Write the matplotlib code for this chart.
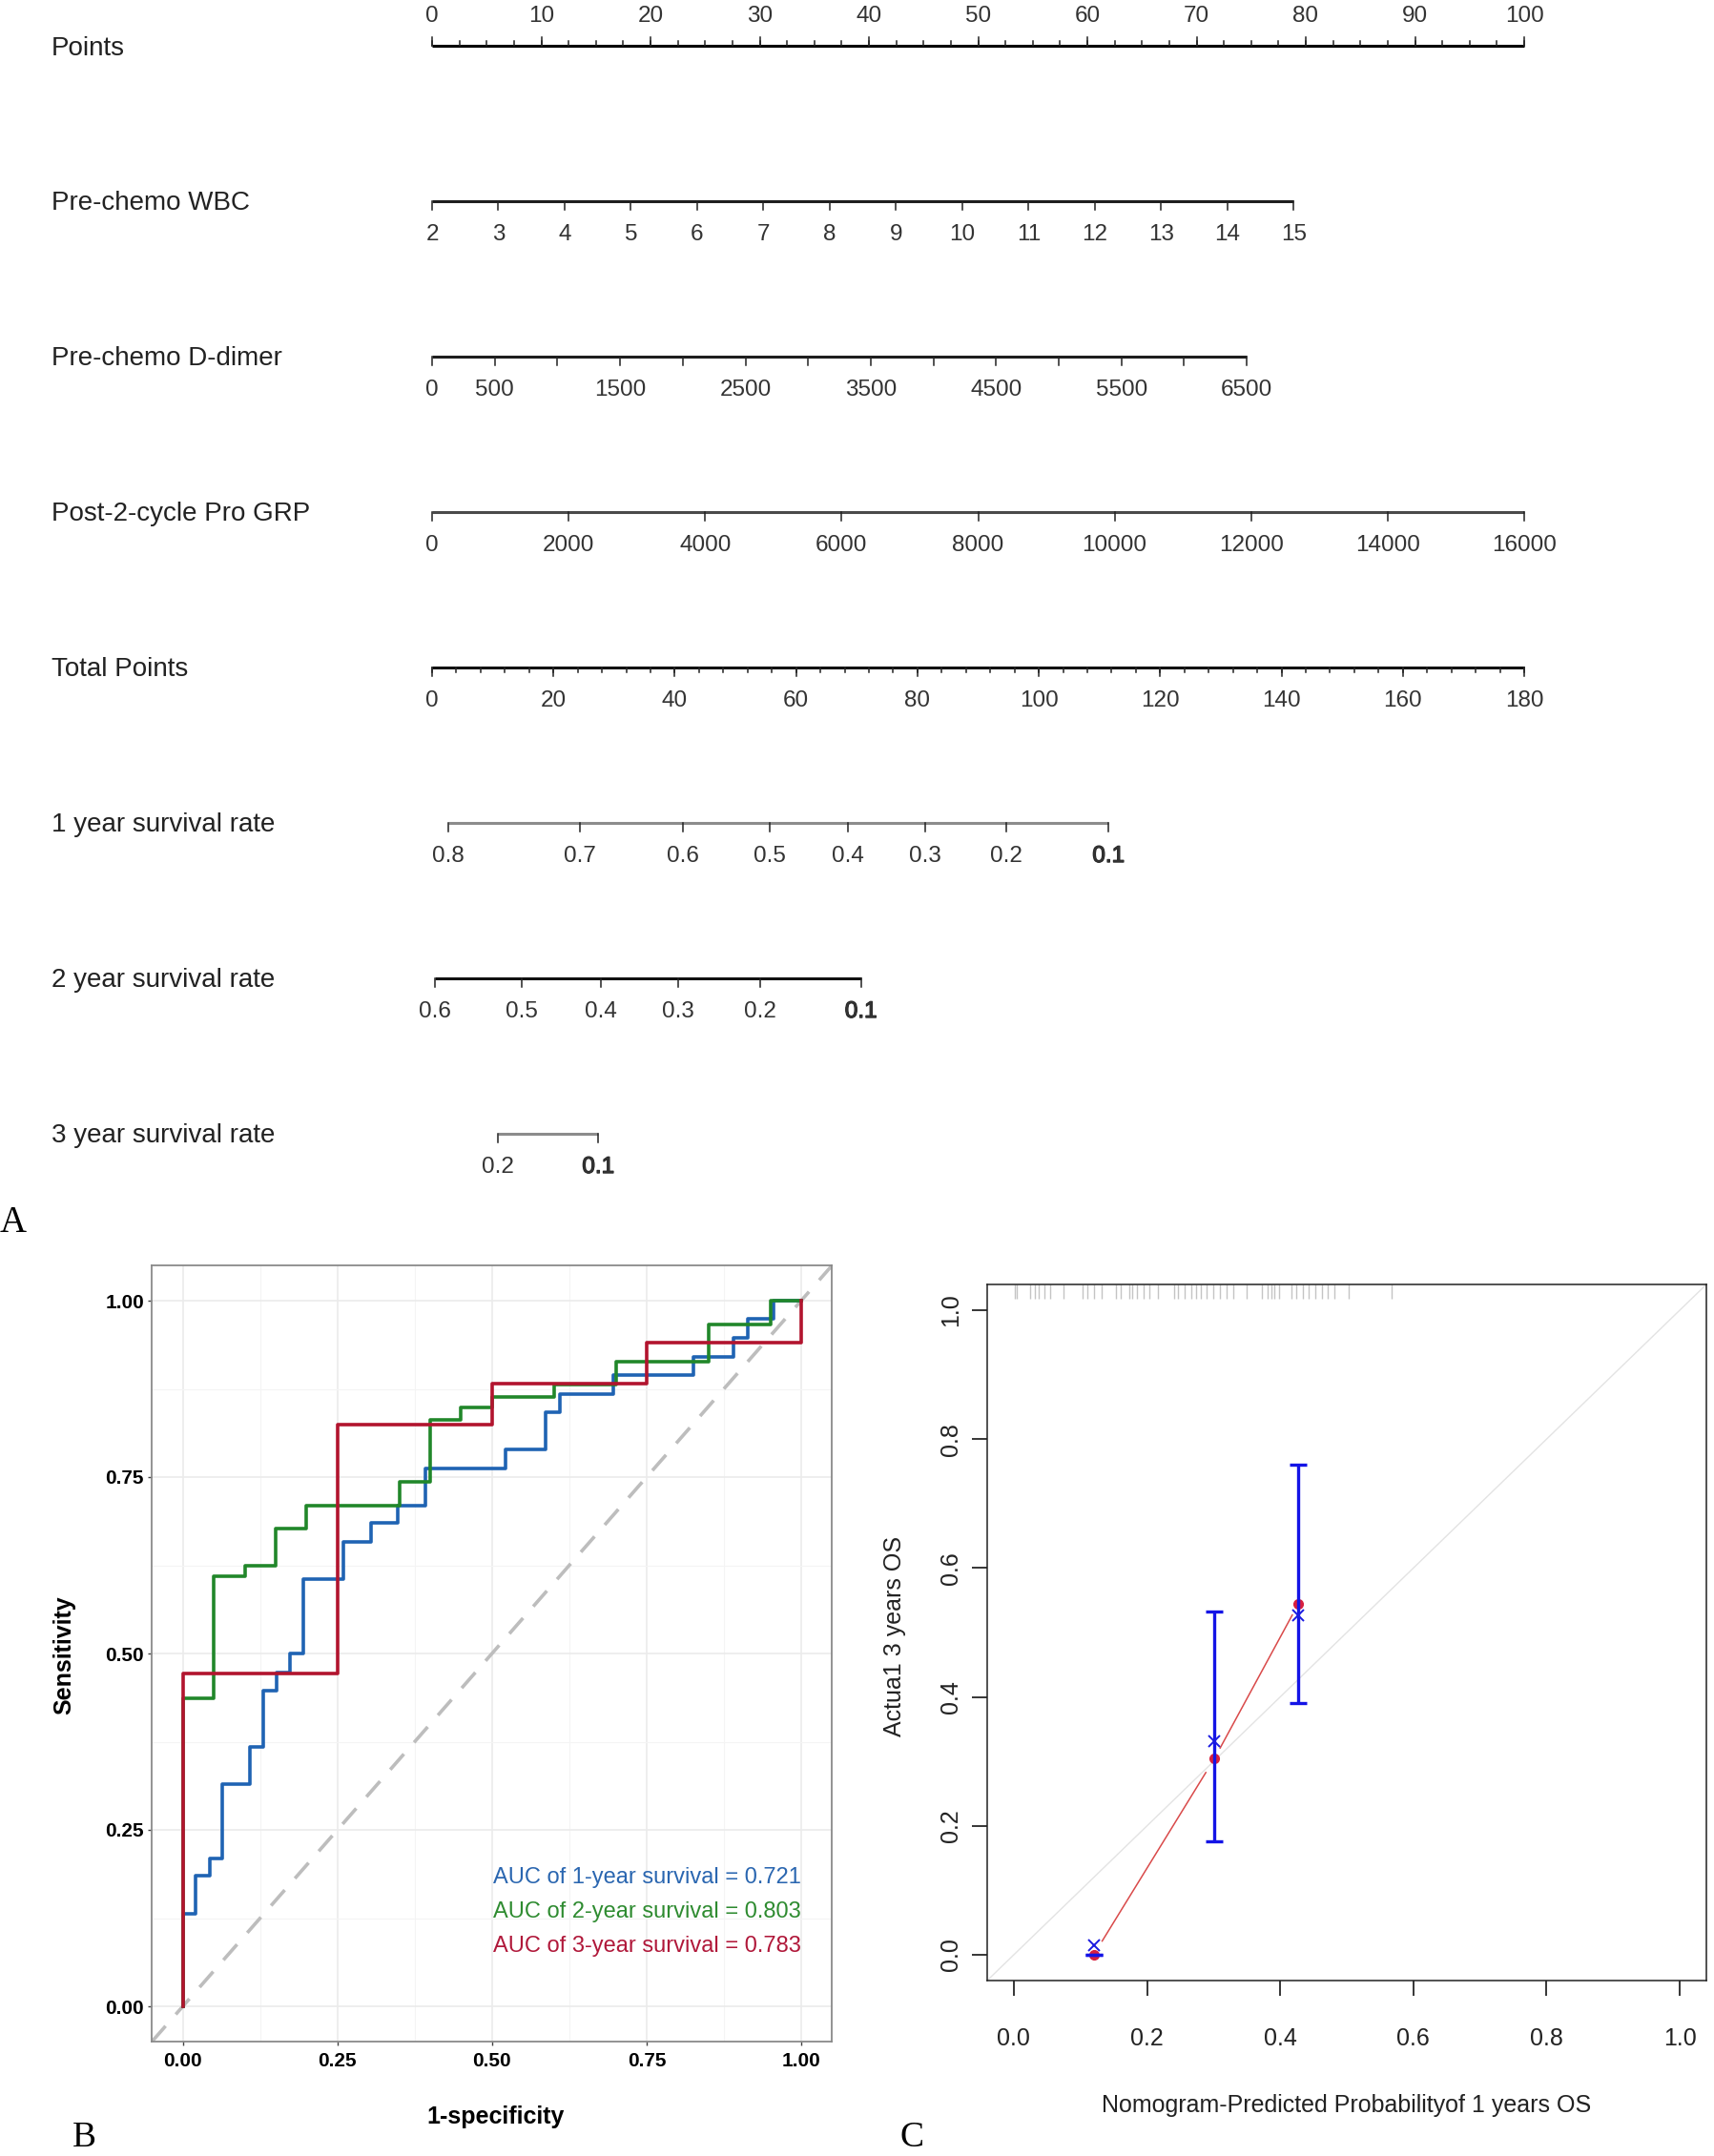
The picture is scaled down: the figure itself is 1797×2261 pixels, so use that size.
import matplotlib
matplotlib.use("Agg")
import matplotlib.pyplot as plt
import matplotlib.transforms as mtransforms
import matplotlib.patheffects as pe
import numpy as np

plt.rcParams['font.family'] = ['Liberation Sans', 'DejaVu Sans']

W, H = 1797, 2261

# ---------------- nomogram data ----------------
row_names = ['Points', 'Pre-chemo WBC', 'Pre-chemo D-dimer', 'Post-2-cycle Pro GRP',
             'Total Points', '1 year survival rate', '2 year survival rate', '3 year survival rate']

points_major = np.arange(0, 101, 10)
points_minor = np.arange(0, 100.1, 2.5)

wbc_ticks = list(range(2, 16))
wbc_max_points = 78.9          # points reached at WBC = 15

ddimer_ticks = list(range(0, 6501, 500))
ddimer_labels = [0, 500, 1500, 2500, 3500, 4500, 5500, 6500]
ddimer_max_points = 74.6       # points reached at D-dimer = 6500

grp_ticks = list(range(0, 16001, 2000))

total_major = np.arange(0, 181, 20)
total_minor = np.arange(0, 181, 4)

surv1_vals = ['0.8', '0.7', '0.6', '0.5', '0.4', '0.3', '0.2', '0.1']
surv1_tp = [2.7, 24.3, 41.3, 55.6, 68.5, 81.3, 94.7, 111.5]
surv2_vals = ['0.6', '0.5', '0.4', '0.3', '0.2', '0.1']
surv2_tp = [0.5, 14.8, 27.8, 40.6, 54.1, 70.7]
surv3_vals = ['0.2', '0.1']
surv3_tp = [10.8, 27.4]

# ---------------- ROC data (fpr where the curve steps up, tpr after the step) ----------------
roc1_fpr = [0, 0, 0.021, 0.044, 0.064, 0.108, 0.130, 0.152, 0.173, 0.195, 0.260, 0.304,
            0.348, 0.392, 0.522, 0.587, 0.609, 0.696, 0.826, 0.891, 0.913, 0.955, 1.0]
roc1_tpr = [0, 0.131, 0.185, 0.210, 0.315, 0.367, 0.447, 0.473, 0.500, 0.605, 0.658, 0.685,
            0.710, 0.762, 0.789, 0.842, 0.867, 0.894, 0.920, 0.947, 0.974, 1.0, 1.0]
roc2_fpr = [0, 0, 0.05, 0.10, 0.15, 0.20, 0.35, 0.40, 0.45, 0.50, 0.60, 0.70, 0.85, 0.95, 1.0]
roc2_tpr = [0, 0.436, 0.610, 0.625, 0.677, 0.710, 0.743, 0.831, 0.848, 0.864, 0.881,
            0.914, 0.966, 1.0, 1.0]
roc3_fpr = [0, 0, 0.25, 0.50, 0.75, 1.0]
roc3_tpr = [0, 0.471, 0.824, 0.882, 0.941, 1.0]
auc_labels = ['AUC of 1-year survival = 0.721',
              'AUC of 2-year survival = 0.803',
              'AUC of 3-year survival = 0.783']

# ---------------- calibration data ----------------
cal_pred = [0.120, 0.301, 0.427]
cal_obs = [0.0, 0.304, 0.544]
cal_kmx = [0.015, 0.331, 0.527]
cal_lo = [0.0, 0.176, 0.391]
cal_hi = [0.0, 0.532, 0.761]
rug_x = [0.001, 0.004, 0.025, 0.031, 0.038, 0.046, 0.054, 0.074, 0.103, 0.111, 0.121,
         0.132, 0.154, 0.161, 0.173, 0.178, 0.185, 0.195, 0.204, 0.216, 0.241, 0.247,
         0.257, 0.266, 0.274, 0.281, 0.290, 0.300, 0.310, 0.319, 0.329, 0.350, 0.373,
         0.381, 0.387, 0.391, 0.398, 0.417, 0.424, 0.434, 0.443, 0.453, 0.463, 0.472,
         0.482, 0.503, 0.568]


def px_box(l, t, r, b):
    return [l / W, 1 - b / H, (r - l) / W, (b - t) / H]


fig = plt.figure(figsize=(W / 100, H / 100), dpi=100)

# ================= A: nomogram =================
axn = fig.add_axes(px_box(453, 48, 1598, 1189))
axn.set_xlim(0, 100)
axn.set_ylim(7, 0)
axn.axis('off')
lab_tr = mtransforms.blended_transform_factory(fig.transFigure, axn.transData)

for i, name in enumerate(row_names):
    axn.text(54 / W, i + (0.02 if i == 0 else 0.01), name, transform=lab_tr,
             ha='left', va='center', fontsize=20, color='#222222')

tick_fs = 17.5
major_len = 0.058
minor_len = 0.03


def draw_row(y, xs, labels, color, major_x=None, minor_x=None, up=False, bold_last=False):
    axn.plot([min(xs), max(xs)], [y, y], color=color, lw=2.2, solid_capstyle='butt',
             clip_on=False)
    sgn = -1 if up else 1
    tx = xs if major_x is None else major_x
    for x in tx:
        axn.plot([x, x], [y, y + sgn * major_len], color='#222222', lw=1.1, clip_on=False)
    if minor_x is not None:
        for x in minor_x:
            axn.plot([x, x], [y, y + sgn * minor_len], color='#222222', lw=1.1, clip_on=False)
    off = 0.19 if up else 0.215
    for k, (x, s) in enumerate(zip(xs, labels)):
        t = axn.text(x, y + sgn * off, s, ha='center', va='center',
                     fontsize=tick_fs, color='#333333', clip_on=False)
        if bold_last and k == len(xs) - 1:
            t.set_path_effects([pe.withStroke(linewidth=0.9, foreground='#222222')])


# Points
draw_row(0, list(points_major), [str(v) for v in points_major], 'black',
         minor_x=points_minor, up=True)
# WBC
wbc_x = [(v - 2) / (15 - 2) * wbc_max_points for v in wbc_ticks]
draw_row(1, wbc_x, [str(v) for v in wbc_ticks], '#1e1e1e')
# D-dimer
dd_x_all = [v / 6500 * ddimer_max_points for v in ddimer_ticks]
dd_x_lab = [v / 6500 * ddimer_max_points for v in ddimer_labels]
draw_row(2, dd_x_lab, [str(v) for v in ddimer_labels], '#1e1e1e', major_x=dd_x_all)
# Pro GRP
grp_x = [v / 16000 * 100 for v in grp_ticks]
draw_row(3, grp_x, [str(v) for v in grp_ticks], '#4a4a4a')
# Total points
tp_x = [v / 180 * 100 for v in total_major]
draw_row(4, tp_x, [str(v) for v in total_major], '#111111',
         minor_x=[v / 180 * 100 for v in total_minor])
# survival scales
draw_row(5, [v / 180 * 100 for v in surv1_tp], surv1_vals, '#8c8c8c', bold_last=True)
draw_row(6, [v / 180 * 100 for v in surv2_tp], surv2_vals, '#111111', bold_last=True)
draw_row(7, [v / 180 * 100 for v in surv3_tp], surv3_vals, '#8c8c8c', bold_last=True)

fig.text(14 / W, 1 - 1282 / H, 'A', fontsize=28, family='Liberation Serif',
         ha='center', va='center')

# ================= B: ROC curves =================
axb = fig.add_axes(px_box(159.3, 1327, 872.4, 2141))
axb.set_xlim(-0.05, 1.05)
axb.set_ylim(-0.05, 1.05)
axb.set_xticks([0, 0.25, 0.5, 0.75, 1.0])
axb.set_yticks([0, 0.25, 0.5, 0.75, 1.0])
axb.set_xticks([0.125, 0.375, 0.625, 0.875], minor=True)
axb.set_yticks([0.125, 0.375, 0.625, 0.875], minor=True)
axb.set_xticklabels(['0.00', '0.25', '0.50', '0.75', '1.00'], fontweight='bold', fontsize=15)
axb.set_yticklabels(['0.00', '0.25', '0.50', '0.75', '1.00'], fontweight='bold', fontsize=15)
axb.grid(which='major', color='#ebebeb', lw=1.2)
axb.grid(which='minor', color='#f4f4f4', lw=0.8)
axb.set_axisbelow(True)
axb.tick_params(which='major', length=3, width=1, color='#444444', pad=5)
axb.tick_params(which='minor', length=0)
axb.tick_params(axis='y', pad=3)
for sp in axb.spines.values():
    sp.set_color('#8a8a8a')
    sp.set_linewidth(1.3)

axb.axline((0, 0), (1, 1), color='#bdbdbd', lw=2.6, dashes=(6, 4.5), zorder=2)
axb.plot(roc1_fpr, roc1_tpr, drawstyle='steps-post', color='#1f63b3', lw=2.6, zorder=3)
axb.plot(roc2_fpr, roc2_tpr, drawstyle='steps-post', color='#21872a', lw=2.6, zorder=4)
axb.plot(roc3_fpr, roc3_tpr, drawstyle='steps-post', color='#b2142e', lw=2.6, zorder=5)
for lab, yy, c in zip(auc_labels, [0.183, 0.134, 0.085], ['#2a66b0', '#2e8b30', '#b0183a']):
    axb.text(1.0, yy, lab, ha='right', va='center', fontsize=17, color=c)

fig.text(67 / W, 1 - 1736 / H, 'Sensitivity', rotation=90, ha='center', va='center',
         fontsize=18, fontweight='bold')
fig.text(520 / W, 1 - 2220 / H, '1-specificity', ha='center', va='center',
         fontsize=18, fontweight='bold')
fig.text(88 / W, 1 - 2251 / H, 'B', fontsize=27, family='Liberation Serif',
         ha='center', va='baseline')

# ================= C: calibration =================
axc = fig.add_axes(px_box(1035, 1347, 1789, 2077))
axc.set_xlim(-0.04, 1.04)
axc.set_ylim(-0.04, 1.04)
ticks = [0.0, 0.2, 0.4, 0.6, 0.8, 1.0]
axc.set_xticks(ticks)
axc.set_yticks(ticks)
axc.set_xticklabels([f'{t:.1f}' for t in ticks], fontsize=18, color='#222222')
axc.set_yticklabels([f'{t:.1f}' for t in ticks], fontsize=18, color='#222222',
                    rotation=90, va='center')
axc.tick_params(axis='x', length=11.5, width=1.1, pad=24)
axc.tick_params(axis='y', length=11.5, width=1.1, pad=7)
for sp in axc.spines.values():
    sp.set_color('#222222')
    sp.set_linewidth(1.1)

axc.axline((0, 0), (1, 1), color='#e3e3e3', lw=1.0, zorder=1)
rug_tr = mtransforms.blended_transform_factory(axc.transData, axc.transAxes)
axc.vlines(rug_x, 0.98, 1.0, transform=rug_tr, color='#c4c4c4', lw=1.0)

# red line with small gaps around the points (R type = "b")
for k in range(len(cal_pred) - 1):
    x0, y0 = cal_pred[k], cal_obs[k]
    x1, y1 = cal_pred[k + 1], cal_obs[k + 1]
    g = 0.07
    axc.plot([x0 + g * (x1 - x0), x1 - g * (x1 - x0)],
             [y0 + g * (y1 - y0), y1 - g * (y1 - y0)], color='#d94a4a', lw=1.1, zorder=3)
axc.plot(cal_pred, cal_obs, 'o', color='#d81f3f', ms=7, zorder=4)
err_lo = [m - l for m, l in zip(cal_obs, cal_lo)]
err_hi = [h - m for m, h in zip(cal_obs, cal_hi)]
axc.errorbar(cal_pred, cal_obs, yerr=[err_lo, err_hi], fmt='none', ecolor='#1414e6',
             elinewidth=2.4, capsize=6.5, capthick=2.4, zorder=5)
axc.plot(cal_pred, cal_kmx, 'x', color='#1a1ae0', ms=9, mew=1.4, zorder=6)

fig.text(938 / W, 1 - 1716 / H, 'Actua1 3 years OS', rotation=90, ha='center', va='center',
         fontsize=18, color='#222222')
fig.text(1412 / W, 1 - 2208 / H, 'Nomogram-Predicted Probabilityof 1 years OS',
         ha='center', va='center', fontsize=18, color='#222222')
fig.text(956 / W, 1 - 2251 / H, 'C', fontsize=27, family='Liberation Serif',
         ha='center', va='baseline')

fig.savefig('out.png', dpi=100, facecolor='white')
